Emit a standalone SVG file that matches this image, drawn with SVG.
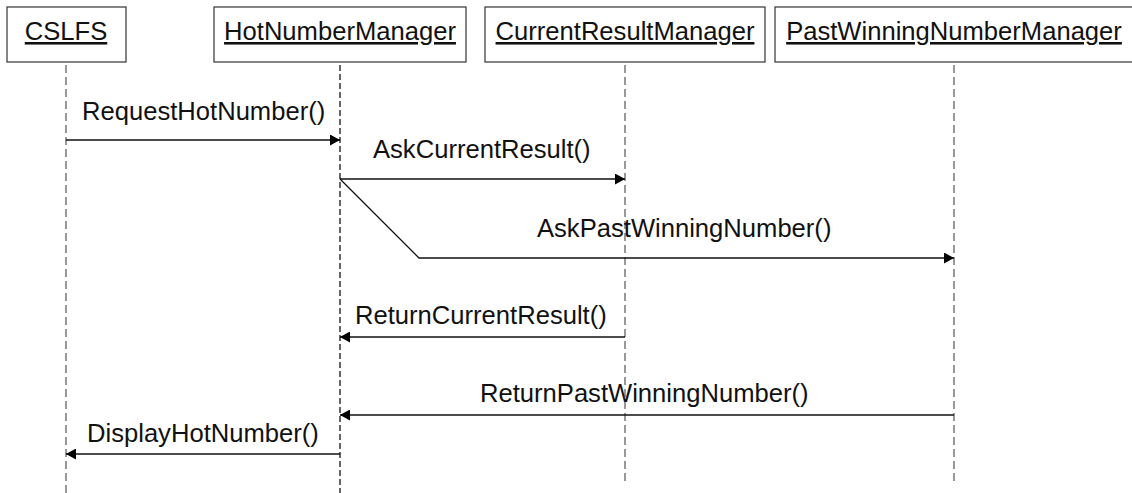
<svg xmlns="http://www.w3.org/2000/svg" width="1132" height="493" viewBox="0 0 1132 493">
  <style>
    .box { fill: #ffffff; stroke: #333333; stroke-width: 1.2; }
    .name { font-family: "Liberation Sans", Arial, sans-serif; font-size: 25.6px; fill: #111111; text-anchor: middle; text-decoration: underline; }
    .life { stroke: #555555; stroke-width: 1.2; stroke-dasharray: 8 4; fill: none; }
    .life-active { stroke: #000000; stroke-width: 1.2; stroke-dasharray: 6 3; fill: none; }
    .msg { stroke: #111111; stroke-width: 1.3; fill: none; marker-end: url(#head); }
    .label { font-family: "Liberation Sans", Arial, sans-serif; font-size: 25.6px; fill: #111111; }
  </style>
  <defs>
    <marker id="head" markerUnits="userSpaceOnUse" markerWidth="10" markerHeight="11" refX="10" refY="5.5" orient="auto" viewBox="0 0 10 11">
      <path d="M0,0 L10,5.5 L0,11 Z" fill="#000000"/>
    </marker>
  </defs>
  <rect width="1132" height="493" fill="#ffffff"/>

  <!-- participants -->
  <g id="cslfs">
    <rect class="box" x="7" y="7" width="119" height="55"/>
    <line class="life" x1="66" y1="65" x2="66" y2="493"/>
    <text class="name" x="66" y="40">CSLFS</text>
  </g>
  <g id="hotNumberManager">
    <rect class="box" x="214" y="7" width="252" height="55"/>
    <line class="life-active" x1="340" y1="65" x2="340" y2="493"/>
    <text class="name" x="340" y="40">HotNumberManager</text>
  </g>
  <g id="currentResultManager">
    <rect class="box" x="485" y="7" width="280" height="55"/>
    <line class="life" x1="625" y1="65" x2="625" y2="483"/>
    <text class="name" x="625" y="40">CurrentResultManager</text>
  </g>
  <g id="pastWinningNumberManager">
    <rect class="box" x="775" y="7" width="362" height="55"/>
    <line class="life" x1="954" y1="65" x2="954" y2="483"/>
    <text class="name" x="954" y="40">PastWinningNumberManager</text>
  </g>

  <!-- messages -->
  <g id="connectors">
    <line class="msg" x1="66" y1="140" x2="340" y2="140"/>
    <line class="msg" x1="340" y1="179" x2="625" y2="179"/>
    <polyline class="msg" points="340,179 419,258 954,258"/>
    <line class="msg" x1="625" y1="337" x2="340" y2="337"/>
    <line class="msg" x1="954" y1="415" x2="340" y2="415"/>
    <line class="msg" x1="340" y1="454" x2="66" y2="454"/>
  </g>

  <g id="labels">
    <text class="label" x="82" y="120">RequestHotNumber()</text>
    <text class="label" x="373" y="158">AskCurrentResult()</text>
    <text class="label" x="537" y="237">AskPastWinningNumber()</text>
    <text class="label" x="355" y="324">ReturnCurrentResult()</text>
    <text class="label" x="480" y="402">ReturnPastWinningNumber()</text>
    <text class="label" x="87" y="442">DisplayHotNumber()</text>
  </g>
</svg>
